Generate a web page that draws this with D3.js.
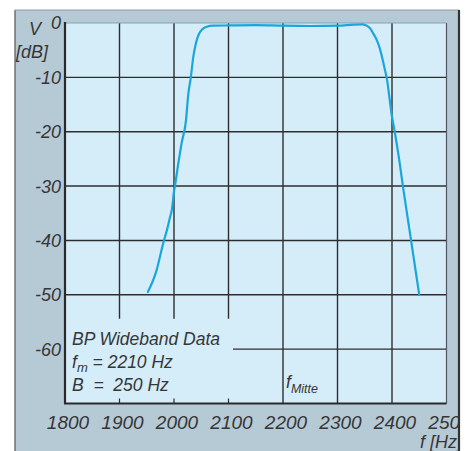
<!DOCTYPE html>
<html><head><meta charset="utf-8">
<script src="https://cdn.jsdelivr.net/npm/d3@7"></script>
<style>body{margin:0;background:#fff}svg{display:block}text{font-family:"Liberation Sans",Arial,sans-serif;font-style:italic;fill:#363636}</style>
</head><body>
<script>
const freq = [1952, 1968, 1980, 1987, 1993, 1996, 2000, 2002, 2008, 2014, 2022, 2026, 2031, 2035, 2040, 2045, 2049, 2054, 2060, 2072, 2100, 2150, 2200, 2250, 2300, 2330, 2345, 2352, 2360, 2366, 2372, 2378, 2383, 2387, 2391, 2395, 2399, 2405, 2413, 2420, 2435, 2450];
const dB   = [-49.5, -45.5, -40.6, -38.1, -35.6, -34.4, -31, -29.8, -25.8, -22.1, -17.9, -13.3, -9.9, -6.5, -3.8, -2.2, -1.5, -1.0, -0.7, -0.5, -0.45, -0.4, -0.5, -0.55, -0.5, -0.3, -0.25, -0.4, -1.0, -2.0, -3.1, -4.8, -6.8, -8.6, -10.5, -13.5, -16.6, -20, -25, -30, -40, -50];
const xTicks = [1800, 1900, 2000, 2100, 2200, 2300, 2400, 2500];
const yTicks = [0, -10, -20, -30, -40, -50, -60];
const yGrid = [-10, -20, -30, -40, -50, -60];
const textLines = ["BP Wideband Data", "= 2210 Hz", "B  =  250 Hz"];

const W = 469, H = 451;
const svg = d3.select("body").append("svg").attr("width", W).attr("height", H);
const x = d3.scaleLinear().domain([1800, 2500]).range([65, 446.5]);
const y = d3.scaleLinear().domain([0, -70]).range([23, 403.5]);

const defs = svg.append("defs");
defs.append("clipPath").attr("id", "pc").append("rect").attr("x", 15).attr("y", 10).attr("width", 443).attr("height", 450);

// outer panel
svg.append("rect").attr("x", 15).attr("y", 10).attr("width", 444).attr("height", 450).attr("fill", "#b6cad6");
svg.append("line").attr("x1", 15).attr("x2", 15).attr("y1", 10).attr("y2", 451).attr("stroke", "#555").attr("stroke-width", 1.2);
svg.append("line").attr("x1", 15).attr("x2", 459).attr("y1", 10).attr("y2", 10).attr("stroke", "#8a9aa4").attr("stroke-width", 1);
svg.append("line").attr("x1", 459).attr("x2", 459).attr("y1", 10).attr("y2", 451).attr("stroke", "#333").attr("stroke-width", 2.2);

// plot area
svg.append("rect").attr("x", x(1800)).attr("y", y(0)).attr("width", x(2500) - x(1800)).attr("height", y(-70) - y(0)).attr("fill", "#d5edf9");

const g = svg.append("g");
const gridCol = "#2e2e2e";
xTicks.slice(1, 7).forEach(v => {
  const bottom = v < 2200 ? y(-50) + 24 : y(-70);
  g.append("line").attr("x1", x(v)).attr("x2", x(v)).attr("y1", y(0)).attr("y2", bottom).attr("stroke", gridCol).attr("stroke-width", 1.4);
  if (v < 2200) g.append("line").attr("x1", x(v)).attr("x2", x(v)).attr("y1", y(-70)).attr("y2", y(-70) - 5).attr("stroke", gridCol).attr("stroke-width", 1.2);
});
yGrid.forEach(v => {
  const x0 = v === -60 ? 233 : x(1800);
  g.append("line").attr("x1", x0).attr("x2", x(2500)).attr("y1", y(v)).attr("y2", y(v)).attr("stroke", gridCol).attr("stroke-width", 1.4);
});
g.append("line").attr("x1", x(2500)).attr("x2", x(2500)).attr("y1", y(0)).attr("y2", y(-70)).attr("stroke", "#556").attr("stroke-width", 1.2);
g.append("line").attr("x1", x(1800)).attr("x2", x(2500)).attr("y1", y(0)).attr("y2", y(0)).attr("stroke", "#7fa6bb").attr("stroke-width", 1);
g.append("line").attr("x1", x(1800)).attr("x2", x(1800)).attr("y1", y(0) - 1).attr("y2", y(-70)).attr("stroke", "#2a2a2a").attr("stroke-width", 2.2);
g.append("line").attr("x1", x(1800) - 1).attr("x2", x(2500)).attr("y1", y(-70)).attr("y2", y(-70)).attr("stroke", "#2a2a2a").attr("stroke-width", 2.2);

// curve
const line = d3.line().x(d => x(d[0])).y(d => y(d[1])).curve(d3.curveMonotoneX);
svg.append("path").datum(freq.map((f, i) => [f, dB[i]])).attr("d", line)
  .attr("fill", "none").attr("stroke", "#1aa6dc").attr("stroke-width", 2.2).attr("stroke-linecap", "round");

// y tick labels
const fs = 18;
yTicks.forEach(v => {
  svg.append("text").attr("x", 61).attr("y", y(v)).attr("dy", "0.36em").attr("text-anchor", "end")
    .attr("font-size", fs).text(String(v));
});
svg.append("text").attr("x", 29).attr("y", 35).attr("font-size", fs).text("V");
svg.append("text").attr("x", 16).attr("y", 58).attr("font-size", fs).text("[dB]");

// x tick labels
const xl = svg.append("g").attr("clip-path", "url(#pc)");
xTicks.forEach(v => {
  xl.append("text").attr("x", x(v) + 3).attr("y", 429).attr("text-anchor", "middle").attr("font-size", 19).text(v);
});
xl.append("text").attr("x", 462).attr("y", 448).attr("text-anchor", "end").attr("font-size", fs).text("f [Hz]");

// text box
svg.append("text").attr("x", 72).attr("y", 345).attr("font-size", 17.5).text(textLines[0]);
const t2 = svg.append("text").attr("x", 72).attr("y", 368).attr("font-size", 17.5);
t2.append("tspan").text("f");
t2.append("tspan").attr("dy", 4).attr("font-size", 13).text("m");
t2.append("tspan").attr("dy", -4).text(" " + textLines[1]);
svg.append("text").attr("x", 72).attr("y", 391).attr("font-size", 17.5).style("white-space", "pre").text(textLines[2]);

const t3 = svg.append("text").attr("x", 286).attr("y", 388).attr("font-size", 17.5);
t3.append("tspan").text("f");
t3.append("tspan").attr("dy", 5).attr("font-size", 12.5).text("Mitte");
</script>
</body></html>
